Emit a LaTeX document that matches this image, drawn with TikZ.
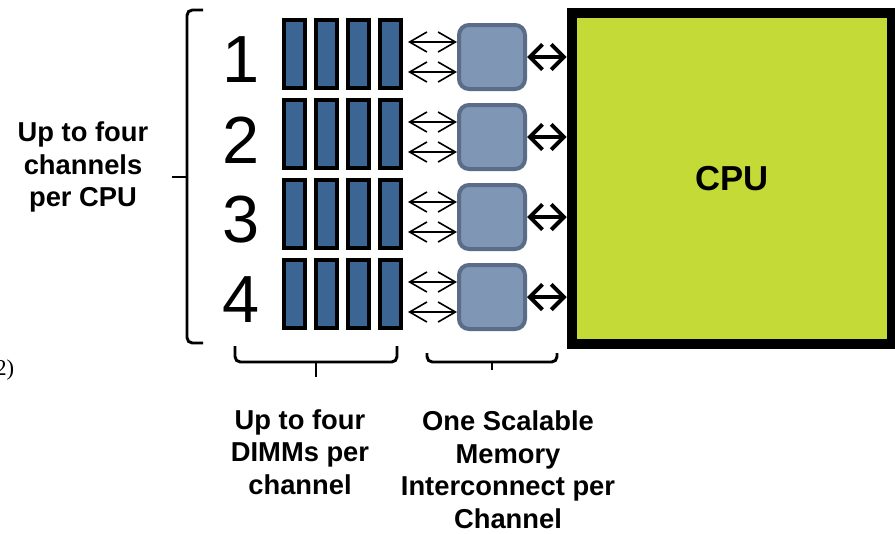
\documentclass[tikz,border=0pt]{standalone}
\usepackage{fontspec}
\setmainfont{Liberation Sans}
\newfontfamily\serifa{Liberation Serif}
\usetikzlibrary{arrows.meta,calc}
\definecolor{dimmblue}{RGB}{59,101,146}
\definecolor{smifill}{RGB}{127,150,180}
\definecolor{smiedge}{RGB}{90,108,136}
\definecolor{cpugreen}{RGB}{195,218,55}
\begin{document}
\begin{tikzpicture}[x=0.75pt,y=-0.75pt,
  dimm/.style={draw=black, line width=3pt, fill=dimmblue, minimum width=15.75pt, minimum height=51pt, inner sep=0pt},
  smi/.style={draw=smiedge, line width=3pt, fill=smifill, rounded corners=7.5pt, minimum width=49.5pt, minimum height=48pt, inner sep=0pt},
  cpubox/.style={draw=black, line width=7.9pt, fill=cpugreen, minimum width=240pt, minimum height=248.25pt, inner sep=0pt, font=\fontsize{26}{30}\selectfont\bfseries},
  num/.style={font=\fontsize{50}{56}\selectfont, inner sep=0pt},
  lbl/.style={font=\fontsize{20.5}{24.4}\selectfont\bfseries, align=center, inner sep=0pt},
  brace/.style={line width=2.2pt, rounded corners=4pt},
  sarr/.style={{Straight Barb[length=13pt 0,width=15pt 0]}-{Straight Barb[length=13pt 0,width=15pt 0]}, line width=1.2pt},
  tarr/.style={{Straight Barb[length=9.5pt 0,width=19pt 0]}-{Straight Barb[length=9.5pt 0,width=19pt 0]}, line width=3pt}]
\useasboundingbox (0,0) rectangle (895,533);

\node[cpubox] (cpu) at (732,178.5) {CPU};

\foreach \i [evaluate=\i as \yc using 54+80*(\i-1),
             evaluate=\i as \ys using 57+80*(\i-1),
             evaluate=\i as \yn using 60+80*(\i-1)] in {1,...,4} {
  \node[num] (n\i) at (241,\yn) {\i};
  \foreach \j/\xc in {1/294.5,2/326.5,3/358.5,4/390.5}
    \node[dimm] (dimm\i\j) at (\xc,\yc) {};
  \node[smi] (s\i) at (492,\ys) {};
  \draw[sarr] ($(dimm\i4.east |- s\i.west)+(5,-15)$) -- ($(s\i.west)+(0,-15)$);
  \draw[sarr] ($(dimm\i4.east |- s\i.west)+(5,15)$) -- ($(s\i.west)+(0,15)$);
  \draw[tarr] (s\i.east) -- (s\i.east -| cpu.west);
}

% braces
\draw[brace] (203,10) -- (187,10) -- (187,343) -- (203,343);
\draw[brace] (187,177) -- (172,177);
\draw[brace] (235,346) -- (235,362) -- (397,362) -- (397,346);
\draw[brace] (316,362) -- (316,377);
\draw[brace] (427,353) -- (427,362) -- (557,362) -- (557,353);
\draw[brace] (492,362) -- (492,370);

% labels
\node[lbl] (lch) at (83,167) {Up to four\\channels\\per CPU};
\node[lbl] (ldimm) at (300,452) {Up to four\\DIMMs per\\channel};
\node[lbl] (lsmi) at (508,469.5) {One Scalable\\Memory\\Interconnect per\\Channel};
\node[font=\serifa\fontsize{17}{20}\selectfont, anchor=east, inner sep=0pt] (cut) at (14.5,370) {2)};
\end{tikzpicture}
\end{document}
